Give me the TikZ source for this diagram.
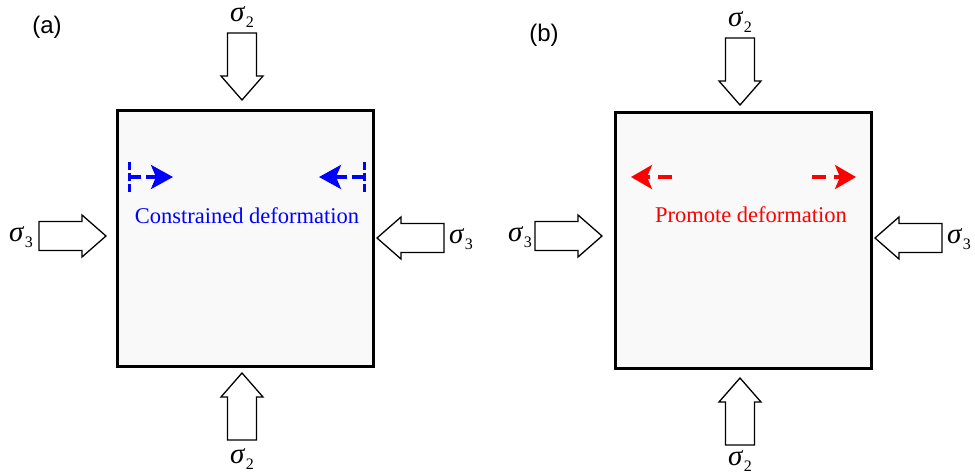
\documentclass[tikz,border=0pt]{standalone}
\usepackage{fontspec}
\setmainfont{Liberation Serif}
\newfontfamily\panelfont{Liberation Sans}
\usetikzlibrary{arrows.meta}
\newcommand\sigl[1]{\textit{σ}\kern0.5pt\raisebox{-6pt}{\fontsize{16}{16}\selectfont #1}}
\tikzset{
  stressbox/.style={draw=black, line width=3pt, fill=gray!5},
  arrowline/.style={draw=black, line width=1.3pt, fill=white, line join=miter},
  barrow/.pic={\path[arrowline] (0,0) -- (-21,-24) -- (-14.5,-24) -- (-14.5,-67) -- (14.5,-67) -- (14.5,-24) -- (21,-24) -- cycle;},
  siglabel/.style={font=\fontsize{29}{29}\selectfont, inner sep=0pt},
  panel/.style={font=\panelfont\fontsize{24}{24}\selectfont, inner sep=0pt},
  bluedash/.style={blue, line width=3.5pt, dash pattern=on 12pt off 5pt, -{Stealth[length=22pt,width=24pt,inset=5pt]}},
  bluebar/.style={blue, line width=3pt, dash pattern=on 8pt off 3pt},
  reddash/.style={red, line width=3.5pt, dash pattern=on 14pt off 8pt, -{Stealth[length=21pt,width=24pt,inset=5pt]}},
  desc/.style={font=\fontsize{22.5}{22.5}\selectfont, inner sep=0pt},
}
\begin{document}
\begin{tikzpicture}[x=1pt,y=-1pt]
\useasboundingbox (0,0) rectangle (975,475);
% panel (a)
\node[panel] (pa) at (47,27) {(a)};
\path[stressbox] (117,110) rectangle (373,366);
\node[inner sep=0pt, minimum width=256pt, minimum height=256pt] (boxA) at (245,238) {};
\pic at (242,100) {barrow};
\pic[rotate=180] at (242,373) {barrow};
\pic[rotate=90] at (106,236) {barrow};
\pic[rotate=-90] at (377,238) {barrow};
\node[siglabel] (sa1) at (242,17) {\sigl{2}};
\node[siglabel] (sa2) at (242,459) {\sigl{2}};
\node[siglabel] (sa3) at (21,237) {\sigl{3}};
\node[siglabel] (sa4) at (461,239) {\sigl{3}};
\coordinate (bl1) at (129,162);
\coordinate (bl2) at (129,192);
\coordinate (br1) at (364,162);
\coordinate (br2) at (364,192);
\draw[bluebar] (bl1) -- (bl2);
\draw[bluebar] (br1) -- (br2);
\coordinate (ablS) at (129,177);
\coordinate (ablE) at (173,177);
\coordinate (abrS) at (364,177);
\coordinate (abrE) at (319,177);
\draw[bluedash] (ablS) -- (ablE);
\draw[bluedash] (abrS) -- (abrE);
\node[desc, text=blue] (ta) at (247,216) {Constrained deformation};
% panel (b)
\node[panel] (pb) at (544,35) {(b)};
\path[stressbox] (615,112) rectangle (871,368);
\node[inner sep=0pt, minimum width=256pt, minimum height=256pt] (boxB) at (743,240) {};
\pic at (740,105) {barrow};
\pic[rotate=180] at (740,378) {barrow};
\pic[rotate=90] at (602,236) {barrow};
\pic[rotate=-90] at (875,238) {barrow};
\node[siglabel] (sb1) at (740,22) {\sigl{2}};
\node[siglabel] (sb2) at (740,461) {\sigl{2}};
\node[siglabel] (sb3) at (520,237) {\sigl{3}};
\node[siglabel] (sb4) at (959,239) {\sigl{3}};
\coordinate (bblS) at (672,177);
\coordinate (bblE) at (631,177);
\coordinate (bbrS) at (812,177);
\coordinate (bbrE) at (856,177);
\draw[reddash] (bblS) -- (bblE);
\draw[reddash] (bbrS) -- (bbrE);
\node[desc, text=red] (tb) at (751,215) {Promote deformation};
\end{tikzpicture}
\end{document}
